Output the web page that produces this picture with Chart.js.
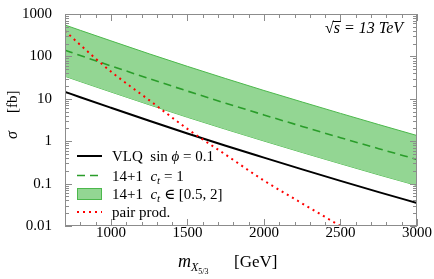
<!DOCTYPE html>
<html>
<head>
<meta charset="utf-8">
<script src="https://cdn.jsdelivr.net/npm/chart.js@4/dist/chart.umd.min.js"></script>
<style>
  html, body { margin: 0; padding: 0; background: #fff; }
</style>
</head>
<body>
<canvas id="xsecChart" width="434" height="279"></canvas>
<script>
// masses in GeV, cross sections in fb
const masses = [700, 800, 1000, 1250, 1500, 1750, 2000, 2250, 2500, 2750, 3000];
const vlq = [14.6, 10.9, 6.15, 3.03, 1.52, 0.78, 0.41, 0.217, 0.116, 0.063, 0.035];
const model14 = [140, 105, 59.8, 29.9, 15.2, 7.87, 4.16, 2.23, 1.21, 0.667, 0.371];
const bandHigh = [550, 412, 233, 115, 58.2, 30.0, 15.7, 8.4, 4.53, 2.47, 1.36];
const bandLow = [33.9, 25.5, 14.5, 7.23, 3.67, 1.91, 1.01, 0.541, 0.294, 0.161, 0.09];
const pairMass = [700, 800, 1000, 1250, 1500, 1750, 2000, 2250, 2500];
const pairProd = [400, 186, 44, 9.3, 1.95, 0.48, 0.118, 0.034, 0.01];

const xTicks = [1000, 1500, 2000, 2500, 3000];
const yTicks = [0.01, 0.1, 1, 10, 100, 1000];

const SERIF = '"Liberation Serif", "DejaVu Serif", serif';
const GREEN_FILL = '#93d693';
const GREEN_EDGE = '#4cb84c';
const GREEN_DASH = '#2a9d2a';

const pts = (xs, ys) => xs.map((m, i) => ({ x: m, y: ys[i] }));

// draw a run of text pieces (italic / subscript) one after another
function drawParts(ctx, x, y, parts) {
  for (const p of parts) {
    ctx.font = (p.i ? 'italic ' : '') + (p.s || 15) + 'px ' + SERIF;
    ctx.fillText(p.t, x, y + (p.dy || 0));
    x += ctx.measureText(p.t).width;
  }
  return x;
}

const ct = [{ t: 'c', i: true }, { t: 't', i: true, s: 11, dy: 3 }];
const legendRows = [
  { type: 'line', color: '#000', dash: [], width: 2,
    parts: [{ t: 'VLQ  sin ' }, { t: 'ϕ', i: true }, { t: ' = 0.1' }] },
  { type: 'line', color: GREEN_DASH, dash: [8, 5], width: 1.6,
    parts: [{ t: '14+1  ' }, ...ct, { t: ' = 1' }] },
  { type: 'box',
    parts: [{ t: '14+1  ' }, ...ct, { t: ' ∈ [0.5, 2]' }] },
  { type: 'line', color: '#ff0000', dash: [2, 4], width: 2,
    parts: [{ t: 'pair prod.' }] }
];

const decorations = {
  id: 'decorations',
  afterDatasetsDraw(chart) {
    const { ctx, chartArea: a, scales: { x, y } } = chart;
    ctx.save();

    // frame with inward ticks on all four sides
    ctx.strokeStyle = '#8c8c8c';
    ctx.lineWidth = 1;
    ctx.beginPath();
    for (let m = 700; m <= 3000; m += 100) {
      const px = Math.round(x.getPixelForValue(m)) + 0.5;
      const len = m % 500 === 0 ? 7 : 4;
      ctx.moveTo(px, a.bottom); ctx.lineTo(px, a.bottom - len);
      ctx.moveTo(px, a.top); ctx.lineTo(px, a.top + len);
    }
    for (let e = -2; e <= 3; e++) {
      for (let k = 1; k <= 9; k++) {
        const v = k * Math.pow(10, e);
        if (v > 1000) break;
        const py = Math.round(y.getPixelForValue(v)) + 0.5;
        const len = k === 1 ? 7 : 4;
        ctx.moveTo(a.left, py); ctx.lineTo(a.left + len, py);
        ctx.moveTo(a.right, py); ctx.lineTo(a.right - len, py);
      }
    }
    ctx.stroke();
    ctx.strokeRect(Math.round(a.left) + 0.5, Math.round(a.top) + 0.5,
      Math.round(a.width) - 1, Math.round(a.height) - 1);

    // legend, lower left inside the plot
    ctx.textBaseline = 'alphabetic';
    const rowY = [156, 175.5, 194, 212];
    legendRows.forEach((r, i) => {
      const cy = rowY[i];
      if (r.type === 'box') {
        ctx.fillStyle = GREEN_FILL;
        ctx.fillRect(77, cy - 6, 25, 12);
        ctx.strokeStyle = GREEN_EDGE;
        ctx.lineWidth = 1;
        ctx.setLineDash([]);
        ctx.strokeRect(77.5, cy - 5.5, 24, 11);
      } else {
        ctx.strokeStyle = r.color;
        ctx.lineWidth = r.width;
        ctx.setLineDash(r.dash);
        ctx.beginPath();
        ctx.moveTo(77, cy); ctx.lineTo(102, cy);
        ctx.stroke();
      }
      ctx.setLineDash([]);
      ctx.fillStyle = '#000';
      drawParts(ctx, 112, cy + 5, r.parts);
    });

    // energy label, sqrt with a bar over the s
    ctx.fillStyle = '#000';
    ctx.font = 'italic 16px ' + SERIF;
    const rest = ' = 13 TeV';
    const wRest = ctx.measureText(rest).width;
    const xs = 403 - wRest - ctx.measureText('s').width;
    ctx.fillText('√', xs - ctx.measureText('√').width, 33);
    ctx.fillText('s', xs, 33);
    ctx.fillText(rest, 403 - wRest, 33);
    ctx.lineWidth = 1;
    ctx.strokeStyle = '#000';
    ctx.beginPath();
    ctx.moveTo(xs - 1, 21.5); ctx.lineTo(xs + ctx.measureText('s').width + 1, 21.5);
    ctx.stroke();

    // x axis title
    const xt = [{ t: 'm', i: true, s: 18 }, { t: 'X', i: true, s: 12, dy: 4 },
                { t: '5/3', s: 8, dy: 7 }, { t: '      [GeV]', s: 17 }];
    drawParts(ctx, 178, 267, xt);

    // y axis title, rotated
    ctx.translate(17, 116);
    ctx.rotate(-Math.PI / 2);
    drawParts(ctx, -23, 0, [{ t: 'σ', i: true, s: 16 }]);
    drawParts(ctx, 3, 0, [{ t: '[fb]', s: 15 }]);
    ctx.restore();
  }
};

new Chart(document.getElementById('xsecChart'), {
  type: 'line',
  data: {
    datasets: [
      { label: 'VLQ sin ϕ = 0.1', data: pts(masses, vlq), borderColor: '#000',
        borderWidth: 2, order: 2 },
      { label: '14+1 c_t = 1', data: pts(masses, model14), borderColor: GREEN_DASH,
        borderWidth: 1.6, borderDash: [8, 5], order: 3 },
      { label: 'band low', data: pts(masses, bandLow), borderColor: GREEN_EDGE,
        borderWidth: 1, fill: false, order: 5 },
      { label: '14+1 c_t ∈ [0.5, 2]', data: pts(masses, bandHigh), borderColor: GREEN_EDGE,
        borderWidth: 1, fill: '-1', backgroundColor: GREEN_FILL, order: 4 },
      { label: 'pair prod.', data: pts(pairMass, pairProd), borderColor: '#ff0000',
        borderWidth: 2, borderDash: [2, 4], order: 1 }
    ]
  },
  options: {
    responsive: false,
    animation: false,
    layout: { padding: { top: 7, right: 17, left: 0, bottom: 0 } },
    elements: {
      point: { radius: 0 },
      line: { cubicInterpolationMode: 'monotone', borderCapStyle: 'butt' }
    },
    plugins: { legend: { display: false }, tooltip: { enabled: false } },
    scales: {
      x: {
        type: 'linear', min: 700, max: 3000,
        grid: { display: false }, border: { display: false },
        afterBuildTicks: s => { s.ticks = xTicks.map(v => ({ value: v })); },
        afterFit: s => { s.height = 53; },
        ticks: { color: '#000', padding: -10, maxRotation: 0, callback: v => String(v),
                 font: { family: SERIF, size: 15 } }
      },
      y: {
        type: 'logarithmic', min: 0.01, max: 1000,
        grid: { display: false }, border: { display: false },
        afterBuildTicks: s => { s.ticks = yTicks.map(v => ({ value: v })); },
        afterFit: s => { s.width = 65; },
        ticks: { color: '#000', padding: 5, callback: v => String(v),
                 font: { family: SERIF, size: 15 } }
      }
    }
  },
  plugins: [decorations]
});
</script>
</body>
</html>
